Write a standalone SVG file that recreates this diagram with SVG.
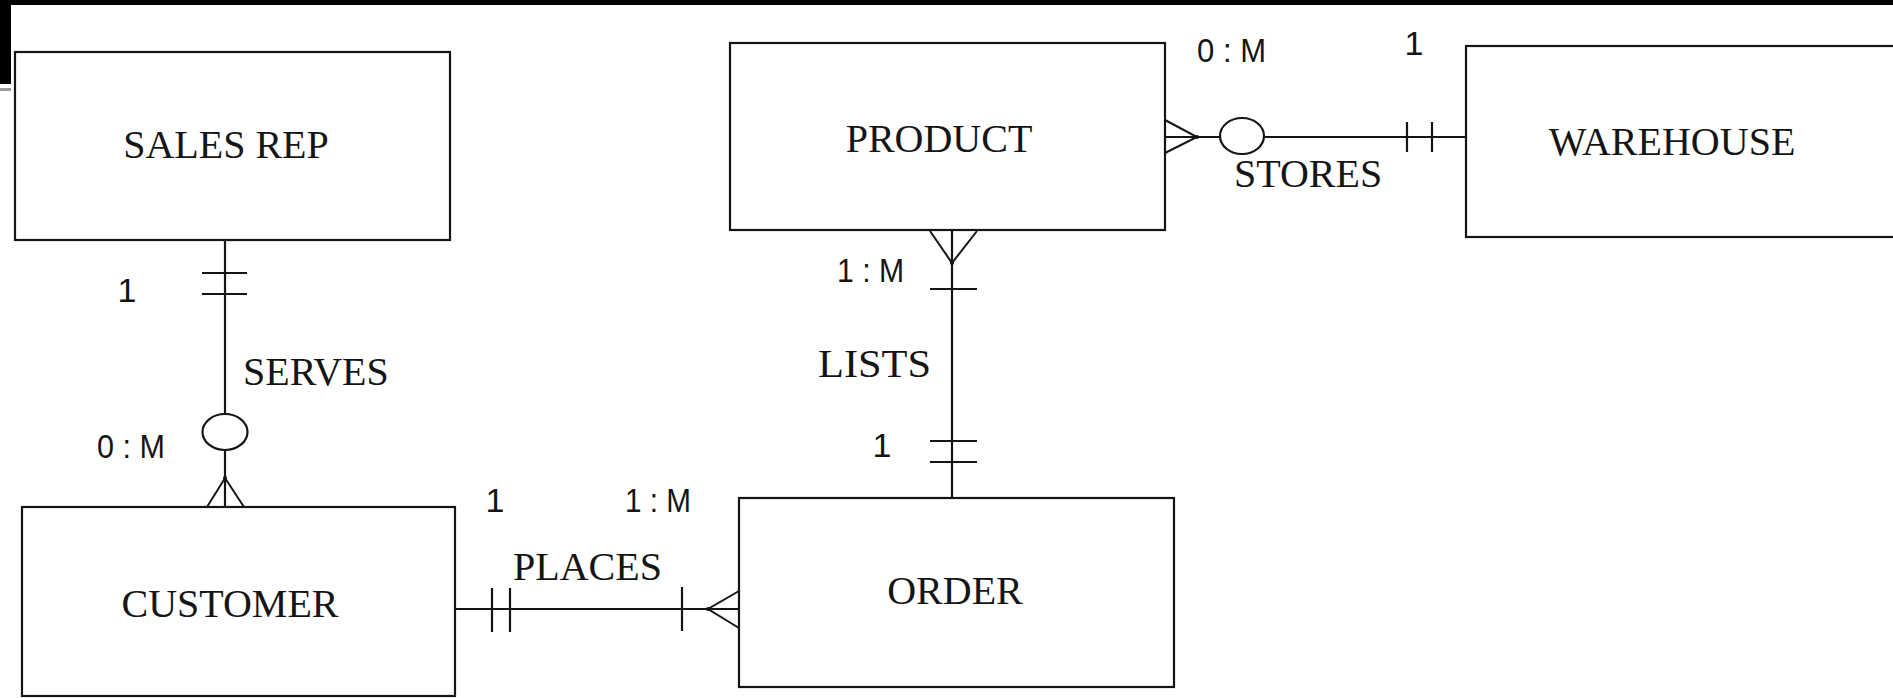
<svg xmlns="http://www.w3.org/2000/svg" width="1893" height="698" viewBox="0 0 1893 698">
<style>
.box{fill:#fff;stroke:#151515;stroke-width:2.2}
.ln{fill:none;stroke:#151515;stroke-width:2.2}
.cf{fill:none;stroke:#151515;stroke-width:2}
.name{font-family:"Liberation Serif",serif;font-size:40px;fill:#151515}
.rel{font-family:"Liberation Serif",serif;font-size:40px;fill:#151515}
.card{font-family:"Liberation Sans",sans-serif;font-size:34px;fill:#151515}
.dot{fill:#151515}
</style>
<rect x="0" y="0" width="1893" height="698" fill="#fff"/>
<rect x="0" y="0" width="1893" height="5" fill="#000"/>
<rect x="0" y="0" width="11" height="84" fill="#000"/>
<rect x="0" y="88" width="11" height="3" fill="#9a9a9a"/>

<g id="sales-rep">
<rect class="box" x="15" y="52" width="435" height="188"/>
<text class="name" x="226" y="158" text-anchor="middle">SALES REP</text>
</g>
<g id="product">
<rect class="box" x="730" y="43" width="435" height="187"/>
<text class="name" x="939" y="152" text-anchor="middle">PRODUCT</text>
</g>
<g id="warehouse">
<rect class="box" x="1466" y="46" width="440" height="191"/>
<text class="name" x="1672" y="155" text-anchor="middle">WAREHOUSE</text>
</g>
<g id="customer">
<rect class="box" x="22" y="507" width="433" height="189"/>
<text class="name" x="230" y="617" text-anchor="middle">CUSTOMER</text>
</g>
<g id="order">
<rect class="box" x="739" y="498" width="435" height="189"/>
<text class="name" x="955" y="604" text-anchor="middle">ORDER</text>
</g>

<g id="connectors">
<!-- SERVES -->
<g id="serves">
<path class="ln" d="M225 240 V414 M225 450 V507"/>
<path class="ln" d="M202 273 H247 M202 294 H247"/>
<ellipse class="ln" cx="225" cy="432" rx="22.5" ry="18"/>
<path class="cf" d="M207 507 L225 478 L244 507"/>
<circle class="dot" cx="225" cy="478" r="2"/>
<text class="rel" x="243" y="385">SERVES</text>
<text class="card" x="127" y="302" text-anchor="middle">1</text>
<text class="card" x="97" y="458" textLength="68" lengthAdjust="spacingAndGlyphs">0 : M</text>
</g>
<!-- LISTS -->
<g id="lists">
<path class="ln" d="M952 230 V498"/>
<path class="cf" d="M930 231 L952 263 L977 231"/>
<circle class="dot" cx="952" cy="263" r="2"/>
<path class="ln" d="M930 289 H977 M930 441 H977 M930 462 H977"/>
<text class="rel" x="818" y="377" textLength="113" lengthAdjust="spacingAndGlyphs">LISTS</text>
<text class="card" x="837" y="282" textLength="67" lengthAdjust="spacingAndGlyphs">1 : M</text>
<text class="card" x="882" y="457" text-anchor="middle">1</text>
</g>
<!-- PLACES -->
<g id="places">
<path class="ln" d="M455 609 H739"/>
<path class="ln" d="M492 588 V632 M510 588 V632 M682 587 V631"/>
<path class="cf" d="M739 591 L708 609 L739 628"/>
<circle class="dot" cx="708" cy="609" r="2"/>
<text class="rel" x="513" y="580">PLACES</text>
<text class="card" x="495" y="512" text-anchor="middle">1</text>
<text class="card" x="625" y="512" textLength="66" lengthAdjust="spacingAndGlyphs">1 : M</text>
</g>
<!-- STORES -->
<g id="stores">
<path class="ln" d="M1165 137 H1220 M1264 137 H1466"/>
<path class="cf" d="M1165 120 L1197 137 L1165 153"/>
<circle class="dot" cx="1197" cy="137" r="2"/>
<ellipse class="ln" cx="1242" cy="136" rx="22" ry="18"/>
<path class="ln" d="M1407 122 V152 M1432 122 V152"/>
<text class="rel" x="1234" y="187">STORES</text>
<text class="card" x="1197" y="62" textLength="69" lengthAdjust="spacingAndGlyphs">0 : M</text>
<text class="card" x="1414" y="55" text-anchor="middle">1</text>
</g>
</g>
</svg>
